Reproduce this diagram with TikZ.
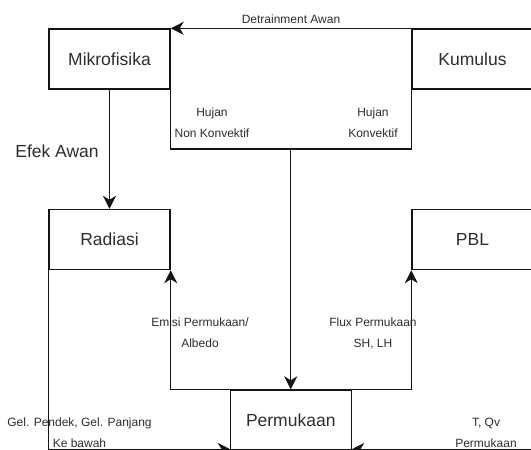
\documentclass[tikz,border=0pt]{standalone}
\usepackage{fontspec}
\setmainfont{Liberation Sans}
\usetikzlibrary{arrows.meta}
\definecolor{txt}{RGB}{45,45,45}
\definecolor{lc}{RGB}{20,20,20}
\begin{document}
\begin{tikzpicture}[x=1pt,y=-1pt,
  box/.style={draw=lc, line width=1.4pt, minimum width=121pt, minimum height=60pt, inner sep=0pt,
    font=\fontsize{17.5}{21}\selectfont, text=txt},
  lbl/.style={font=\fontsize{12}{21}\selectfont, align=center, text=txt, inner sep=0pt},
  big/.style={font=\fontsize{17.5}{21}\selectfont, text=txt, inner sep=0pt},
  ln/.style={line width=1.4pt, draw=lc},
  arr/.style={ln, -{Stealth[length=13pt,width=13pt,inset=4pt]}}]
\useasboundingbox (0,0) rectangle (531,450);
\clip (0,0) rectangle (531,450);

% labels (lines are drawn over them)
\node[lbl] (ldet) at (291,19) {Detrainment Awan};
\node[lbl] (lhnk) at (212,122.5) {Hujan\\Non Konvektif};
\node[lbl] (lhk) at (373,122.5) {Hujan\\Konvektif};
\node[big] (lefek) at (57,151) {Efek Awan};
\node[lbl] (lemi) at (200,333) {Emisi Permukaan/\\Albedo};
\node[lbl] (lflux) at (373,333) {Flux Permukaan\\SH, LH};
\node[lbl] (lgel) at (79.5,432.5) {Gel. Pendek, Gel. Panjang\\Ke bawah};
\node[lbl] (ltqv) at (486,432.5) {T, Qv\\Permukaan};

% boxes
\node[box] (mik) at (109.5,59) {Mikrofisika};
\node[box] (kum) at (472.5,59) {Kumulus};
\node[box] (rad) at (109.5,239.5) {Radiasi};
\node[box] (pbl) at (472.5,239.5) {PBL};
\node[box] (perm) at (290.75,420) {Permukaan};

% helper coordinates
\coordinate (j) at (290.75,149);
\coordinate (pin) at (230.75,449.5);
\coordinate (tin) at (351.25,449.5);
\coordinate (tsrc) at (545,449.5);

% connectors
\draw[arr] (kum.north west) -- (mik.north east);
\draw[ln] (mik.south east) |- (j);
\draw[arr] (kum.south west) |- (j) -- (perm.north);
\draw[arr] (mik.south) -- (rad.north);
\draw[arr] (perm.north west) -| (rad.south east);
\draw[arr] (perm.north east) -| (pbl.south west);
\draw[arr] (rad.south west) |- (pin);
\draw[arr] (tsrc) -- (tin);
\end{tikzpicture}
\end{document}
